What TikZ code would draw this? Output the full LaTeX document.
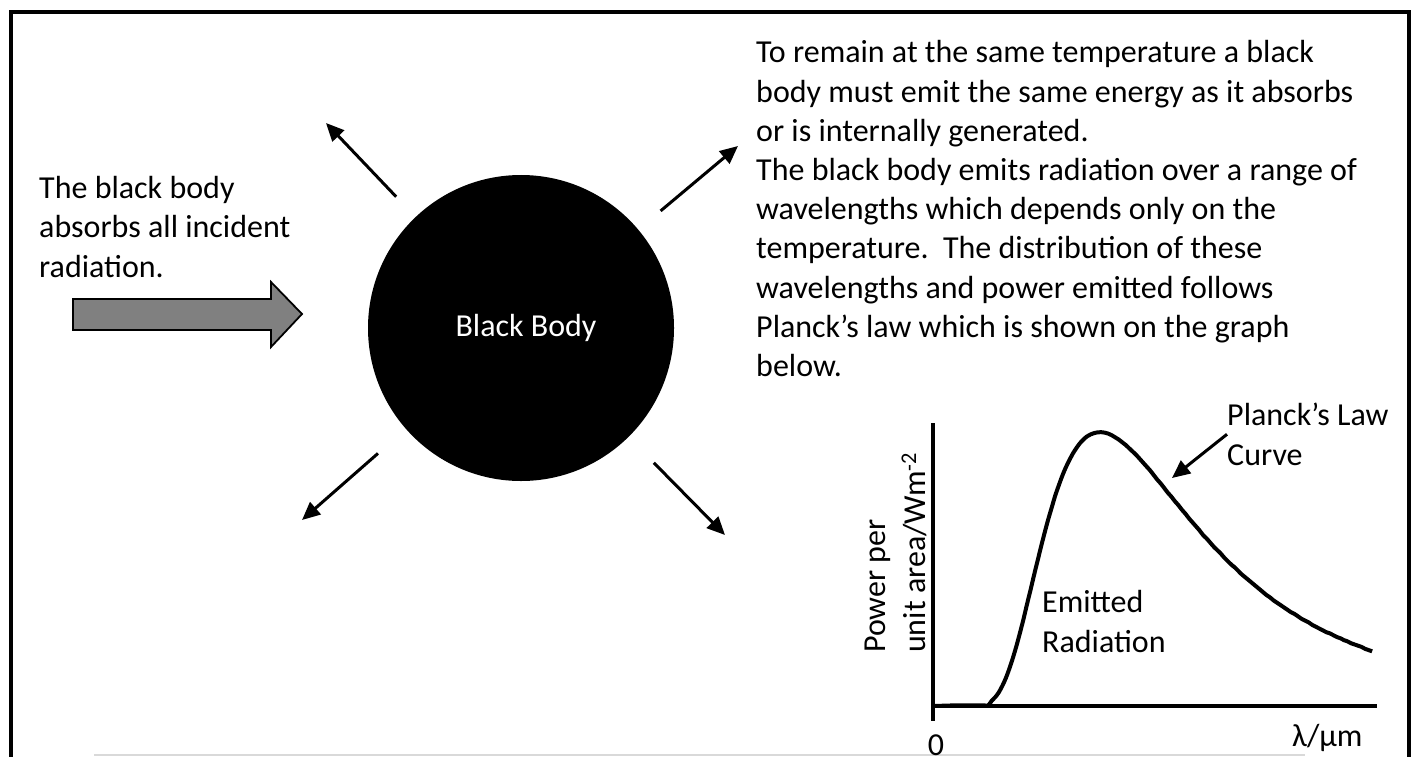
\documentclass[tikz,border=0pt]{standalone}
\usepackage{fontspec}
\setmainfont{Carlito}
\usepackage{tikz}
\usetikzlibrary{arrows.meta,positioning,calc}
\definecolor{incident}{HTML}{808080}
\definecolor{pageedge}{HTML}{D9D9D9}
\newcommand{\UnitX}{167}
\newcommand{\UnitY}{274}

\begin{document}
\begin{tikzpicture}[x=1bp,y=-1bp,
  font=\fontsize{32bp}{39.2bp}\selectfont,
  ray/.style={line width=3bp,-{Triangle[length=18bp,width=16bp]}},
  axis/.style={line width=4bp},
  txt/.style={align=left,inner sep=0pt,anchor=base west},
  declare function={planck(\u)=142.3*exp(-4.965/\u-5*ln(\u))/(1-exp(-4.965/\u));}]
\useasboundingbox (0,0) rectangle (1416,756);
% frame, bottom edge runs off the page
\draw[line width=4bp] (10.5,800) |- (1409,12) -- (1409,800);
\draw[pageedge,line width=1.5bp] (94,755) -- (1305,755);

% incident radiation
\draw[fill=incident,line width=1.8bp,line join=miter]
  (73,299) -- (271,299) -- (271,282) -- (302,314) -- (271,347) -- (271,330) -- (73,330) -- cycle;
\node[txt] (absorb) at (39,277) {The black body\\absorbs all incident\\radiation.};

% the body and what it emits
\node[circle,fill=black,minimum size=306bp,inner sep=0pt,text=white] (body) at (521,328) {\hspace{10bp}Black Body};
\coordinate (ulTip) at (326,123);
\coordinate (urTip) at (738,146);
\coordinate (llTip) at (302,520);
\coordinate (lrTip) at (725,535);
\draw[ray,shorten <=28bp] (body) -- (ulTip);
\draw[ray,shorten <=29bp] (body) -- (urTip);
\draw[ray,shorten <=37bp] (body) -- (llTip);
\draw[ray,shorten <=36bp] (body) -- (lrTip);
\node[txt] (emit) at (756,376.5) {To remain at the same temperature a black\\
  body must emit the same energy as it absorbs\\
  or is internally generated.\\
  The black body emits radiation over a range of\\
  wavelengths which depends only on the\\
  temperature.\ \ The distribution of these\\
  wavelengths and power emitted follows\\
  Planck’s law which is shown on the graph\\
  below.};

% Planck graph
\coordinate (origin) at (933,706);
\draw[axis] (933,423) -- (933,721);
\draw[axis] (origin) -- (1377,706);
\draw[axis,line join=round] (origin) -- plot[domain=0.12:2.63,samples=120,smooth]
  ({933+\UnitX*\x},{706-\UnitY*planck(\x)});
\node[txt] (law) at (1227,465) {Planck’s Law\\Curve};
\coordinate (curveTip) at (1172,478);
\draw[ray] (law.west) -- (curveTip);
\node[txt] (emitted) at (1042,652) {Emitted\\Radiation};
\node[txt,rotate=90] (power) at (925,653) {Power per\\unit area/Wm\textsuperscript{-2}};
\node[txt,anchor=base] (zero) at (936,755) {0};
\node[txt] (lambda) at (1292,746) {λ/µm};
\end{tikzpicture}
\end{document}
